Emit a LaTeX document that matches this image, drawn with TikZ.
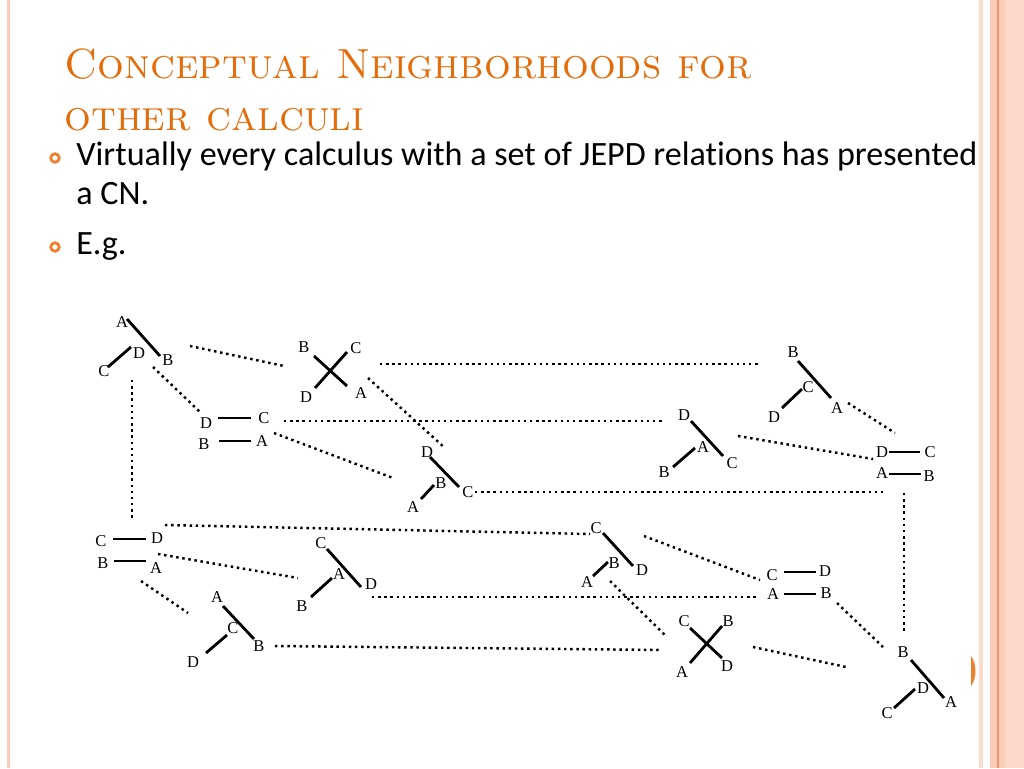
\documentclass[tikz,border=0pt]{standalone}
\usepackage{fontspec}
\newfontfamily\bodyfont[Ligatures=NoCommon]{Carlito}
\newfontfamily\relfont{Liberation Serif}
\usetikzlibrary{calc}
\definecolor{slideorange}{RGB}{228,108,10}
\definecolor{bulletorange}{RGB}{238,128,48}
\definecolor{peach}{RGB}{251,204,184}
\definecolor{peachdark}{RGB}{238,150,110}
\tikzset{
  bar/.style={line width=1.6pt},
  lbl/.style={font=\relfont\fontsize{9.4}{10}\selectfont, inner sep=0pt},
  nbr/.style={line width=1.4pt, dash pattern=on 1.4pt off 2.1pt},
  bullet/.style={circle, draw=bulletorange, line width=1.6pt, minimum size=0.17cm, inner sep=0pt},
  body/.style={anchor=base west, inner sep=0pt, font=\bodyfont\fontsize{19.4}{22}\selectfont},
  title/.style={anchor=base west, inner sep=0pt, text=slideorange, font=\fontsize{24}{28}\selectfont\scshape},
}

\begin{document}
\begin{tikzpicture}[x=0.02cm,y=-0.02cm]
  \useasboundingbox (0,0) rectangle (1024,768);
  %%%%% FRAME %%%%%
  \fill[peach] (7,0) rectangle (10,768);
  \fill[peach!70] (979,0) rectangle (983,768);
  \fill[peach] (990,0) rectangle (1024,768);
  \fill[peach!75] (1005,0) rectangle (1024,768);
  \draw[peachdark, line width=0.6pt] (998,0) -- (998,768);
  \fill[slideorange!85] (971,656) .. controls (977,664) and (977,678) .. (971,686) -- cycle;

  %%%%% TEXT %%%%%
  \node[title] (ttl1) at (64,78) {Conceptual Neighborhoods for};
  \node[title] (ttl2) at (64,130) {other calculi};
  \node[bullet] (o1) at (55,158) {};
  \node[body] (txt1) at (76,165) {Virtually every calculus with a set of JEPD relations has presented};
  \node[body] (txt2) at (76,204) {a CN.};
  \node[bullet] (o2) at (55,247) {};
  \node[body] (txt3) at (76,254) {E.g.};

  %%%%% RELATIONS %%%%%
  \coordinate (r1) at (127,319);
  \begin{scope}[shift={(r1)}]
    \draw[bar] (0,0) -- (33,37);
    \draw[bar] (-19,48) -- (4,28);
    \node[lbl] (r1a) at (-5,3) {A};
    \node[lbl] (r1b) at (41,41) {B};
    \node[lbl] (r1d) at (12,34) {D};
    \node[lbl] (r1c) at (-23,52) {C};
  \end{scope}

  \coordinate (r2) at (331,371);
  \begin{scope}[shift={(r2)}]
    \draw[bar] (-17,-15) -- (16,15);
    \draw[bar] (16,-19) -- (-16,17);
    \node[lbl] (r2b) at (-27,-24) {B};
    \node[lbl] (r2c) at (25,-23) {C};
    \node[lbl] (r2d) at (-25,26) {D};
    \node[lbl] (r2a) at (30,22) {A};
  \end{scope}

  \coordinate (r3) at (218,418);
  \begin{scope}[shift={(r3)}]
    \draw[bar] (0,0) -- (33,0);
    \draw[bar] (1,23) -- (33,23);
    \node[lbl] (r3d) at (-12,5) {D};
    \node[lbl] (r3c) at (46,0) {C};
    \node[lbl] (r3b) at (-14,26) {B};
    \node[lbl] (r3a) at (44,23) {A};
  \end{scope}

  \coordinate (r4) at (430,457);
  \begin{scope}[shift={(r4)}]
    \draw[bar] (0,0) -- (29,30);
    \draw[bar] (-9,42) -- (4,28);
    \node[lbl] (r4d) at (-3,-5) {D};
    \node[lbl] (r4c) at (38,35) {C};
    \node[lbl] (r4b) at (11,26) {B};
    \node[lbl] (r4a) at (-17,50) {A};
  \end{scope}

  \coordinate (r5) at (691,421);
  \begin{scope}[shift={(r5)}]
    \draw[bar] (0,0) -- (32,35);
    \draw[bar] (-18,46) -- (4,27);
    \node[lbl] (r5d) at (-7,-6) {D};
    \node[lbl] (r5c) at (41,42) {C};
    \node[lbl] (r5a) at (12,26) {A};
    \node[lbl] (r5b) at (-27,51) {B};
  \end{scope}

  \coordinate (r6) at (798,361);
  \begin{scope}[shift={(r6)}]
    \draw[bar] (0,0) -- (33,37);
    \draw[bar] (-16,47) -- (4,28);
    \node[lbl] (r6b) at (-5,-9) {B};
    \node[lbl] (r6a) at (39,47) {A};
    \node[lbl] (r6c) at (10,26) {C};
    \node[lbl] (r6d) at (-24,56) {D};
  \end{scope}

  \coordinate (r7) at (889,452);
  \begin{scope}[shift={(r7)}]
    \draw[bar] (0,0) -- (31,0);
    \draw[bar] (0,22) -- (32,22);
    \node[lbl] (r7d) at (-7,0) {D};
    \node[lbl] (r7c) at (41,0) {C};
    \node[lbl] (r7a) at (-7,21) {A};
    \node[lbl] (r7b) at (40,24) {B};
  \end{scope}

  \coordinate (r8) at (113,539);
  \begin{scope}[shift={(r8)}]
    \draw[bar] (0,0) -- (33,0);
    \draw[bar] (1,22) -- (33,22);
    \node[lbl] (r8c) at (-12,2) {C};
    \node[lbl] (r8d) at (44,-1) {D};
    \node[lbl] (r8b) at (-10,24) {B};
    \node[lbl] (r8a) at (43,29) {A};
  \end{scope}

  \coordinate (r9) at (327,549);
  \begin{scope}[shift={(r9)}]
    \draw[bar] (0,0) -- (34,38);
    \draw[bar] (-16,48) -- (5,29);
    \node[lbl] (r9c) at (-6,-6) {C};
    \node[lbl] (r9d) at (44,35) {D};
    \node[lbl] (r9a) at (12,25) {A};
    \node[lbl] (r9b) at (-25,57) {B};
  \end{scope}

  \coordinate (r10) at (223,606);
  \begin{scope}[shift={(r10)}]
    \draw[bar] (0,0) -- (31,33);
    \draw[bar] (-17,47) -- (4,29);
    \node[lbl] (r10a) at (-6,-9) {A};
    \node[lbl] (r10b) at (36,40) {B};
    \node[lbl] (r10c) at (10,22) {C};
    \node[lbl] (r10d) at (-30,56) {D};
  \end{scope}

  \coordinate (r11) at (603,533);
  \begin{scope}[shift={(r11)}]
    \draw[bar] (0,0) -- (30,33);
    \draw[bar] (-10,43) -- (5,29);
    \node[lbl] (r11c) at (-7,-5) {C};
    \node[lbl] (r11d) at (39,37) {D};
    \node[lbl] (r11b) at (11,30) {B};
    \node[lbl] (r11a) at (-16,49) {A};
  \end{scope}

  \coordinate (r12) at (784,572);
  \begin{scope}[shift={(r12)}]
    \draw[bar] (0,0) -- (32,0);
    \draw[bar] (0,22) -- (32,22);
    \node[lbl] (r12c) at (-12,3) {C};
    \node[lbl] (r12d) at (41,-1) {D};
    \node[lbl] (r12a) at (-11,22) {A};
    \node[lbl] (r12b) at (42,21) {B};
  \end{scope}

  \coordinate (r13) at (706,643);
  \begin{scope}[shift={(r13)}]
    \draw[bar] (-16,-15) -- (16,15);
    \draw[bar] (16,-17) -- (-16,20);
    \node[lbl] (r13c) at (-22,-22) {C};
    \node[lbl] (r13b) at (22,-22) {B};
    \node[lbl] (r13a) at (-24,29) {A};
    \node[lbl] (r13d) at (21,23) {D};
  \end{scope}

  \coordinate (r14) at (911,660);
  \begin{scope}[shift={(r14)}]
    \draw[bar] (0,0) -- (33,38);
    \draw[bar] (-17,48) -- (4,29);
    \node[lbl] (r14b) at (-8,-8) {B};
    \node[lbl] (r14a) at (40,42) {A};
    \node[lbl] (r14d) at (12,28) {D};
    \node[lbl] (r14c) at (-24,53) {C};
  \end{scope}

  %%%%% NEIGHBOURS %%%%%
  \draw[nbr] ($(r1)+(63,27)$) -- ($(r2)+(-47,-5)$);
  \draw[nbr] ($(r1)+(26,48)$) -- ($(r3)+(-18,-6)$);
  \draw[nbr] ($(r1)+(5,61)$) -- ($(r8)+(19,-19)$);
  \draw[nbr] ($(r2)+(49,-7)$) -- ($(r6)+(-39,3)$);
  \draw[nbr] ($(r2)+(37,7)$) -- ($(r4)+(15,-9)$);
  \draw[nbr] ($(r3)+(66,3)$) -- ($(r5)+(-27,0)$);
  \draw[nbr] ($(r3)+(56,15)$) -- ($(r4)+(-37,21)$);
  \draw[nbr] ($(r4)+(45,35)$) -- ($(r7)+(-2,40)$);
  \draw[nbr] ($(r6)+(50,42)$) -- ($(r7)+(6,-19)$);
  \draw[nbr] ($(r5)+(47,15)$) -- ($(r7)+(-16,7)$);
  \draw[nbr] ($(r7)+(15,41)$) -- ($(r14)+(-7,-27)$);
  \draw[nbr] ($(r8)+(52,-14)$) -- ($(r11)+(-13,1)$);
  \draw[nbr] ($(r8)+(45,15)$) -- ($(r9)+(-29,29)$);
  \draw[nbr] ($(r8)+(28,42)$) -- ($(r10)+(-35,7)$);
  \draw[nbr] ($(r9)+(45,48)$) -- ($(r12)+(-25,25)$);
  \draw[nbr] ($(r10)+(52,40)$) -- ($(r13)+(-44,7)$);
  \draw[nbr] ($(r11)+(41,3)$) -- ($(r12)+(-24,8)$);
  \draw[nbr] ($(r11)+(7,48)$) -- ($(r13)+(-39,-6)$);
  \draw[nbr] ($(r12)+(53,31)$) -- ($(r14)+(-28,-13)$);
  \draw[nbr] ($(r13)+(47,4)$) -- ($(r14)+(-65,7)$);
\end{tikzpicture}
\end{document}
